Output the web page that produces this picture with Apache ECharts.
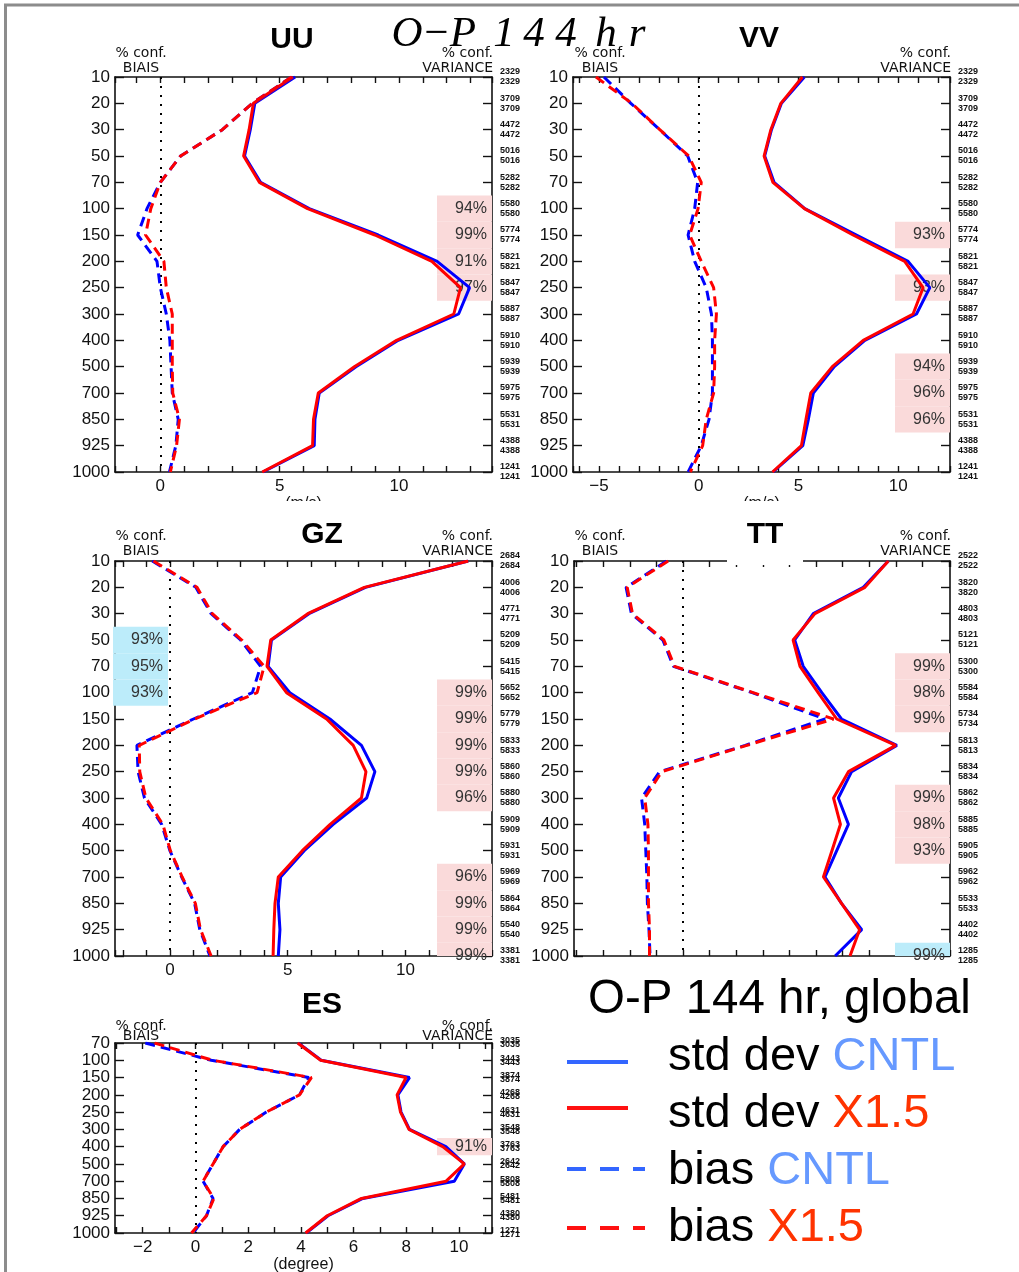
<!DOCTYPE html>
<html><head><meta charset="utf-8">
<script src="https://cdn.jsdelivr.net/npm/echarts@6/dist/echarts.min.js"></script>
<style>html,body{margin:0;padding:0;background:#fff}#c{width:1019px;height:1272px}</style>
</head><body><div id="c"></div>
<script>
// ---------------- DATA ----------------
const levels = [10,20,30,50,70,100,150,200,250,300,400,500,700,850,925,1000];
const esLevels = [70,100,150,200,250,300,400,500,700,850,925,1000];

const countsUV = [2329,3709,4472,5016,5282,5580,5774,5821,5847,5887,5910,5939,5975,5531,4388,1241];
const countsGZ = [2684,4006,4771,5209,5415,5652,5779,5833,5860,5880,5909,5931,5969,5864,5540,3381];
const countsTT = [2522,3820,4803,5121,5300,5584,5734,5813,5834,5862,5885,5905,5962,5533,4402,1285];
const countsES = [3035,3443,3874,4268,4631,3548,3763,2642,5808,5481,4380,1271];

const uuStdCntl = [5.65,3.96,3.77,3.53,4.2,6.24,9.13,11.6,12.96,12.5,9.97,8.2,6.66,6.48,6.45,4.3];
const uuStdX15  = [5.55,3.9,3.72,3.49,4.15,6.17,8.99,11.38,12.58,12.3,9.9,8.13,6.62,6.42,6.38,4.27];
const uuBiasCntl = [5.5,3.85,2.6,0.85,0.0,-0.56,-0.95,-0.14,0.0,0.25,0.4,0.45,0.5,0.75,0.65,0.38];
const uuBiasX15  = [5.5,3.85,2.6,0.85,0.0,-0.4,-0.62,0.15,0.25,0.5,0.5,0.5,0.52,0.8,0.68,0.42];

const vvStdCntl = [5.3,4.15,3.65,3.31,3.78,5.32,7.91,10.5,11.59,10.92,8.33,6.8,5.75,5.5,5.22,3.73];
const vvStdX15  = [5.2,4.12,3.62,3.28,3.72,5.3,7.74,10.33,11.25,10.75,8.25,6.7,5.62,5.38,5.15,3.7];
const vvBiasCntl = [-4.75,-3.4,-1.95,-0.55,-0.05,-0.2,-0.53,-0.2,0.38,0.64,0.69,0.69,0.69,0.52,0.13,-0.53];
const vvBiasX15  = [-5.15,-3.35,-1.95,-0.5,0.13,-0.03,-0.45,0.13,0.75,0.89,0.8,0.8,0.75,0.38,0.2,-0.42];

const gzStdCntl = [12.66,8.3,5.9,4.31,4.17,5.09,6.79,8.13,8.7,8.35,6.93,5.7,4.7,4.6,4.67,4.6];
const gzStdX15  = [12.66,8.25,5.85,4.28,4.12,4.95,6.65,7.78,8.32,8.13,6.8,5.62,4.6,4.46,4.41,4.38];
const gzBiasCntl = [-0.75,1.1,1.75,3.0,3.85,3.5,1.0,-1.4,-1.35,-1.08,-0.35,0.0,0.5,1.05,1.27,1.7];
const gzBiasX15  = [-0.7,1.15,1.8,3.05,4.0,3.7,1.05,-1.3,-1.28,-1.02,-0.3,0.02,0.52,1.08,1.3,1.75];

const ttStdCntl = [3.86,3.39,2.45,2.1,2.26,2.61,2.98,4.02,3.17,2.92,3.11,2.89,2.67,2.98,3.36,2.86];
const ttStdX15  = [3.86,3.42,2.48,2.07,2.2,2.54,2.89,4.0,3.11,2.83,2.96,2.8,2.64,2.98,3.32,3.14];
const ttBiasCntl = [-0.31,-1.07,-0.97,-0.38,-0.18,1.3,2.67,1.17,-0.44,-0.78,-0.72,-0.7,-0.68,-0.67,-0.64,-0.62];
const ttBiasX15  = [-0.28,-1.05,-0.95,-0.36,-0.16,1.32,2.83,1.2,-0.4,-0.72,-0.66,-0.65,-0.65,-0.65,-0.63,-0.63];

const esStdCntl = [3.9,4.77,8.12,7.68,7.8,8.12,9.5,10.2,9.82,6.35,5.03,4.2];
const esStdX15  = [3.88,4.75,7.99,7.65,7.78,8.1,9.38,10.2,9.51,6.3,5.0,4.18];
const esBiasCntl = [-1.9,0.6,4.3,3.95,2.69,1.68,1.05,0.67,0.29,0.67,0.42,-0.09];
const esBiasX15  = [-1.55,0.65,4.4,3.95,2.69,1.68,1.05,0.67,0.29,0.7,0.42,-0.15];

// confidence levels [pressure level, percent]
const uuVarConf = [[100,94],[150,99],[200,91],[250,97]];
const vvVarConf = [[150,93],[250,93],[500,94],[700,96],[850,96]];
const gzVarConf = [[100,99],[150,99],[200,99],[250,99],[300,96],[700,96],[850,99],[925,99],[1000,99]];
const gzBiasConfBetter = [[50,93],[70,95],[100,93]];
const ttVarConf = [[70,99],[100,98],[150,99],[300,99],[400,98],[500,93]];
const ttVarConfBetter = [[1000,99]];
const esVarConf = [[400,91]];

const panelNames = ['UU','VV','GZ','TT','ES'];

// ---------------- LAYOUT / STYLE ----------------
const BLUE = '#0000ff', RED = '#ff0000', PINK = '#fadada', CYAN = '#bcecfa';
const FONT = '"Liberation Sans", Arial, sans-serif';
const SMALL = '"DejaVu Sans", sans-serif';
const layout = [
  {grid:{left:115,top:77,width:377,height:395}, min:-1.9, max:13.9, split:16, step:5, labels:true, name:'(m/s)', nameGap:17, lh:10, pad:6},
  {grid:{left:573,top:77,width:377,height:395}, min:-6.3, max:12.6, split:19, step:5, labels:true, name:'(m/s)', nameGap:17, lh:10, pad:6},
  {grid:{left:115,top:561,width:377,height:395}, min:-2.33, max:13.67, split:16, step:5, labels:true, name:'', nameGap:17, lh:10, pad:6},
  {grid:{left:574,top:561,width:376,height:395}, min:-2.05, max:5.02, split:14, step:1, labels:false, name:'', nameGap:17, lh:10, pad:6},
  {grid:{left:115,top:1043,width:377,height:190}, min:-3.05, max:11.25, split:14, step:2, labels:true, name:'(degree)', nameGap:20, lh:4, pad:0}
];
const panelData = [
  {rows:levels, counts:countsUV, std:[uuStdCntl,uuStdX15], bias:[uuBiasCntl,uuBiasX15], confR:uuVarConf, confRB:[], confLB:[]},
  {rows:levels, counts:countsUV, std:[vvStdCntl,vvStdX15], bias:[vvBiasCntl,vvBiasX15], confR:vvVarConf, confRB:[], confLB:[]},
  {rows:levels, counts:countsGZ, std:[gzStdCntl,gzStdX15], bias:[gzBiasCntl,gzBiasX15], confR:gzVarConf, confRB:[], confLB:gzBiasConfBetter},
  {rows:levels, counts:countsTT, std:[ttStdCntl,ttStdX15], bias:[ttBiasCntl,ttBiasX15], confR:ttVarConf, confRB:ttVarConfBetter, confLB:[]},
  {rows:esLevels, counts:countsES, std:[esStdCntl,esStdX15], bias:[esBiasCntl,esBiasX15], confR:esVarConf, confRB:[], confLB:[]}
];

const grids = [], xAxes = [], yAxes = [], series = [];
const lineAx = {show:true, onZero:false, lineStyle:{color:'#111', width:1.6}};

function fmtX(step){
  return function(v){
    const r = Math.round(v);
    if (Math.abs(v - r) > 1e-6) return '';
    if (r % step !== 0) return '';
    return r < 0 ? '\u2212' + Math.abs(r) : String(r);
  };
}

function confSeries(pi, rows, list, side, fill){
  return {
    type:'custom', xAxisIndex:2*pi, yAxisIndex:2*pi, silent:true, z:1, animation:false,
    encode:{x:1, y:0},
    data: list.map(d => [rows.indexOf(d[0]), d[1]]),
    renderItem: function(params, api){
      const cs = params.coordSys;
      const idx = api.value(0), pct = api.value(1);
      const ya = api.coord([0, idx - 0.5])[1], yb = api.coord([0, idx + 0.5])[1];
      const top = Math.max(cs.y, Math.min(ya, yb));
      const bot = Math.min(cs.y + cs.height, Math.max(ya, yb));
      const w = 55;
      const x = side === 'right' ? cs.x + cs.width - w : cs.x - 2;
      const tx = side === 'right' ? cs.x + cs.width - 5 : cs.x + 48;
      const ty = api.coord([0, idx])[1];
      return {type:'group', children:[
        {type:'rect', shape:{x:x, y:top, width:w, height:bot-top}, style:{fill:fill}},
        {type:'text', style:{text: pct + '%', x:tx, y:ty, align:'right', verticalAlign:'middle',
          textAlign:'right', textVerticalAlign:'middle', font:'16px ' + FONT, fill:'#333'}}
      ]};
    }
  };
}

layout.forEach((L, pi) => {
  const P = panelData[pi];
  grids.push(Object.assign({containLabel:false, outerBoundsMode:'none'}, L.grid));
  xAxes.push({
    gridIndex:pi, type:'value', position:'bottom', min:L.min, max:L.max, splitNumber:L.split,
    axisLine:lineAx, splitLine:{show:false},
    axisTick:{show:true, inside:true, length:6, lineStyle:{color:'#111', width:1.4}},
    axisLabel:{show:L.labels, formatter:fmtX(L.step), fontSize:17, fontFamily:FONT, color:'#111', margin:6},
    name:L.name, nameLocation:'middle', nameGap:L.nameGap,
    nameTextStyle:{fontSize:16, fontFamily:FONT, color:'#111'}
  });
  xAxes.push({
    gridIndex:pi, type:'value', position:'top', min:L.min, max:L.max, splitNumber:L.split,
    axisLine:lineAx, splitLine:{show:false},
    axisTick:{show:true, inside:true, length:6, lineStyle:{color:'#111', width:1.4}},
    axisLabel:{show:false}
  });
  const n = P.rows.length - 1;
  yAxes.push({
    gridIndex:pi, type:'value', position:'left', min:0, max:n, interval:1, inverse:true,
    axisLine:lineAx, splitLine:{show:false},
    axisTick:{show:true, inside:true, length:9, lineStyle:{color:'#111', width:1.4}},
    axisLabel:{formatter:v => (P.rows[v] !== undefined ? String(P.rows[v]) : ''), fontSize:17, fontFamily:FONT, color:'#111', margin:5}
  });
  yAxes.push({
    gridIndex:pi, type:'value', position:'right', min:0, max:n, interval:1, inverse:true,
    axisLine:lineAx, splitLine:{show:false},
    axisTick:{show:true, inside:true, length:9, lineStyle:{color:'#111', width:1.4}},
    axisLabel:{formatter:v => (P.counts[v] !== undefined ? P.counts[v] + '\n' + P.counts[v] : ''),
      fontSize:9, fontWeight:'bold', fontFamily:FONT, color:'#111', margin:8, lineHeight:L.lh,
      padding:[0,0,L.pad,0], verticalAlign:'middle'}
  });

  if (P.confR.length) series.push(confSeries(pi, P.rows, P.confR, 'right', PINK));
  if (P.confRB.length) series.push(confSeries(pi, P.rows, P.confRB, 'right', CYAN));
  if (P.confLB.length) series.push(confSeries(pi, P.rows, P.confLB, 'left', CYAN));

  const mk = (vals, color, dashed, withZero) => {
    const s = {
      type:'line', xAxisIndex:2*pi, yAxisIndex:2*pi, data: vals.map((v,i) => [v,i]),
      symbol:'none', showSymbol:false, silent:true, animation:false, z:3, clip:true,
      lineStyle:{color:color, width:3, type: dashed ? [10,6] : 'solid'}, itemStyle:{color:color}
    };
    if (withZero) s.markLine = {silent:true, symbol:['none','none'], animation:false, z:2,
      label:{show:false}, lineStyle:{color:'#000', type:[2,7], width:2}, data:[{xAxis:0}]};
    return s;
  };
  series.push(mk(P.std[0], BLUE, false, true));
  series.push(mk(P.std[1], RED, false, false));
  series.push(mk(P.bias[0], BLUE, true, false));
  series.push(mk(P.bias[1], RED, true, false));
});

// ---------------- GRAPHICS (titles, annotations, legend) ----------------
const g = [];
function txt(text, x, y, font, fill, align, valign, z){
  g.push({type:'text', x:x, y:y, z:z||50, silent:true,
    style:{text:text, font:font, fill:fill||'#111', align:align||'center', verticalAlign:valign||'middle',
      textAlign:align||'center', textVerticalAlign:valign||'middle'}});
}
// frame
g.push({type:'line', silent:true, z:60, shape:{x1:4, y1:5, x2:1019, y2:5}, style:{stroke:'#8c8c8c', lineWidth:3}});
g.push({type:'line', silent:true, z:60, shape:{x1:5.5, y1:4, x2:5.5, y2:1272}, style:{stroke:'#8c8c8c', lineWidth:3}});
// clip of cut unit labels
g.push({type:'rect', silent:true, z:40, shape:{x:60, y:501, width:950, height:20}, style:{fill:'#fff'}});
// white patch over TT top border
g.push({type:'rect', silent:true, z:40, shape:{x:727, y:556, width:76, height:9}, style:{fill:'#fff'}});

// panel titles
const titlePos = [[292,40],[759,39],[322,535],[765,535],[322,1005]];
panelNames.forEach((t,i) => txt(t, titlePos[i][0], titlePos[i][1], 'bold 30px ' + FONT, '#000'));

// conf labels
const confPos = [[141,493,53,68],[600,951,53,68],[141,493,536,551],[600,951,536,551],[141,493,1026,1036]];
confPos.forEach(p => {
  txt('% conf.', p[0], p[2], '14px ' + SMALL, '#111');
  txt('BIAIS', p[0], p[3], '14px ' + SMALL, '#111');
  txt('% conf.', p[1], p[2], '14px ' + SMALL, '#111', 'right');
  txt('VARIANCE', p[1], p[3], '14px ' + SMALL, '#111', 'right');
});

// main title (italic serif, spaced letters)
const mainTitle = 'O\u2212P 144 hr';
const mainTitleX = [407,436,463,0,504,534,566,0,606,637];
mainTitle.split('').forEach((ch,i) => {
  if (ch !== ' ') txt(ch, mainTitleX[i], 35, 'italic 43px "Liberation Serif", "Times New Roman", serif', '#000');
});

// legend
txt('O-P 144 hr, global', 588, 1000, '47.5px ' + FONT, '#000', 'left');
const legendItems = [
  {a:'std dev ', b:'CNTL', bc:'#6699ff', line:'#3366ff', dash:false, y:1057, ly:1062},
  {a:'std dev ', b:'X1.5', bc:'#ff3300', line:'#ff1111', dash:false, y:1114, ly:1108},
  {a:'bias ', b:'CNTL', bc:'#6699ff', line:'#3366ff', dash:true, y:1171, ly:1169},
  {a:'bias ', b:'X1.5', bc:'#ff3300', line:'#ff1111', dash:true, y:1228, ly:1228}
];
legendItems.forEach(it => {
  g.push({type:'line', silent:true, z:50, shape:{x1:567, y1:it.ly, x2: it.dash ? 645 : 628, y2:it.ly},
    style:{stroke:it.line, lineWidth:4, lineDash: it.dash ? [19,14] : null}});
  g.push({type:'text', x:668, y:it.y, z:50, silent:true, style:{
    text:'{a|' + it.a + '}{b|' + it.b + '}', align:'left', verticalAlign:'middle', textAlign:'left', textVerticalAlign:'middle',
    font:'47px ' + FONT,
    rich:{a:{fill:'#000', fontSize:47, fontFamily:FONT}, b:{fill:it.bc, fontSize:47, fontFamily:FONT}}
  }});
});

const chart = echarts.init(document.getElementById('c'), null, {renderer:'canvas'});
chart.setOption({
  animation:false,
  backgroundColor:'#fff',
  textStyle:{fontFamily:FONT},
  grid:grids, xAxis:xAxes, yAxis:yAxes, series:series,
  graphic:{elements:g}
});
</script></body></html>
